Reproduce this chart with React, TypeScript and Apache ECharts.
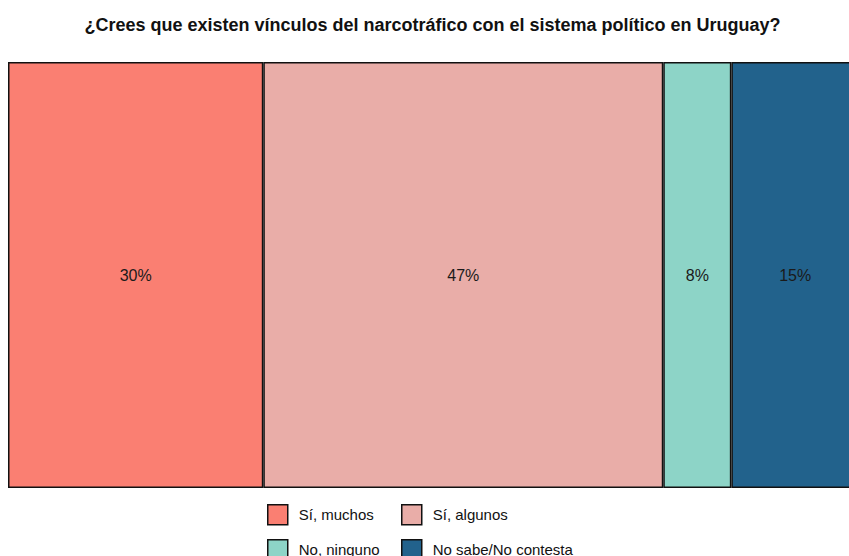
import React, { useEffect, useRef } from "react";
import * as echarts from "echarts";

const titleText = "¿Crees que existen vínculos del narcotráfico con el sistema político en Uruguay?";
const categories = ["Uruguay"];
const seriesNames = ["Sí, muchos", "Sí, algunos", "No, ninguno", "No sabe/No contesta"];
const seriesValues = [30, 47, 8, 15];
const seriesColors = ["#FA7F72", "#E9ADA8", "#8DD4C7", "#22628C"];

export default function App() {
  const ref = useRef<HTMLDivElement>(null);
  useEffect(() => {
    if (!ref.current) return;
    const chart = echarts.init(ref.current, null, { renderer: "svg" });
    const legendCommon = {
      orient: "horizontal" as const,
      itemWidth: 20,
      itemHeight: 20,
      icon: "rect",
      itemStyle: { borderColor: "#111", borderWidth: 1.5 },
      textStyle: {
        fontFamily: "Liberation Sans, Arial, sans-serif",
        fontSize: 15,
        color: "#111",
        padding: [0, 0, 0, 6],
      },
      padding: 0,
    };
    const legendPos = [
      { left: 267, top: 504 },
      { left: 401, top: 504 },
      { left: 267, top: 539 },
      { left: 401, top: 539 },
    ];
    chart.setOption({
      animation: false,
      title: {
        text: titleText,
        left: "center",
        top: 11,
        textStyle: {
          fontFamily: "Liberation Sans, Arial, sans-serif",
          fontSize: 18,
          fontWeight: "bold",
          color: "#111",
        },
      },
      legend: seriesNames.map((name, i) => ({ ...legendCommon, ...legendPos[i], data: [name] })),
      grid: { left: 8, right: 6, top: 62, bottom: 68 },
      xAxis: { type: "value", min: 0, max: 100, show: false },
      yAxis: { type: "category", data: categories, show: false },
      series: seriesNames.map((name, i) => ({
        name,
        type: "bar",
        stack: "total",
        barWidth: "100%",
        data: [seriesValues[i]],
        itemStyle: { color: seriesColors[i], borderColor: "#111", borderWidth: 1.5 },
        label: {
          show: true,
          position: "inside",
          formatter: "{c}%",
          fontFamily: "Liberation Sans, Arial, sans-serif",
          fontSize: 16,
          color: "#1a1a1a",
        },
      })),
    });
    return () => chart.dispose();
  }, []);
  return (
    <div
      ref={ref}
      style={{ position: "fixed", left: 0, top: 0, width: 865, height: 556, background: "#fff" }}
    />
  );
}
